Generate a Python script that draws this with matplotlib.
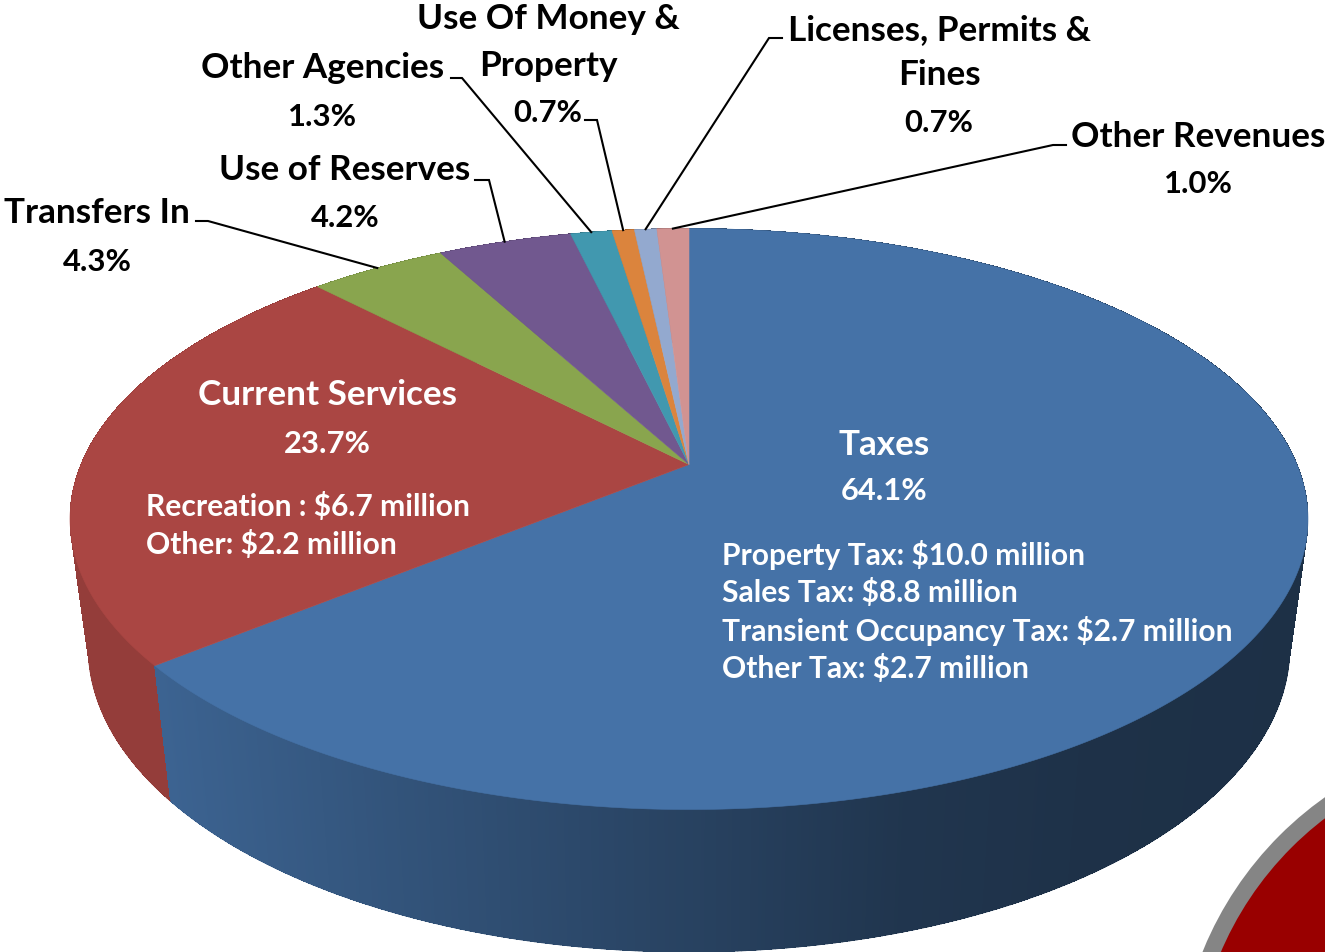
import matplotlib
matplotlib.use("Agg")
import matplotlib.pyplot as plt
from matplotlib.collections import LineCollection, PolyCollection
from matplotlib.colors import to_rgb
from matplotlib.patches import Circle, Polygon
import numpy as np

plt.rcParams["font.family"] = ["Lato", "DejaVu Sans"]

SLICE_NAMES = ["Taxes", "Current Services", "Transfers In", "Use of Reserves",
               "Other Agencies", "Use Of Money & Property",
               "Licenses, Permits & Fines", "Other Revenues"]
SLICE_PCT = [64.1, 23.7, 4.3, 4.2, 1.3, 0.7, 0.7, 1.0]
SLICE_COLORS = ["#4572A7", "#AA4643", "#89A54E", "#71588F",
                "#4198AF", "#DB843D", "#93A9CF", "#D19392"]

TAX_LINES = ["Property Tax: $10.0 million", "Sales Tax: $8.8 million",
             "Transient Occupancy Tax: $2.7 million", "Other Tax: $2.7 million"]
SERVICE_LINES = ["Recreation : $6.7 million", "Other: $2.2 million"]

# perspective of the pie, in image pixels
CX = 689
TOP = dict(y0=465.5, ax=608, ay=280.3)
BOTTOM = dict(y0=591, ax=590, ay=294)
PERSP = 0.1876

# shade of the side wall against x position
SHADE_X = [70, 155, 400, 689, 900, 1100, 1310]
SHADE_K = [0.87, 0.87, 0.73, 0.58, 0.47, 0.43, 0.42]


def project(theta, disk):
    u, v = np.sin(theta), np.cos(theta)
    w = 1 + PERSP * v
    return CX + disk["ax"] * u / w, disk["y0"] - disk["ay"] * v / w


fig = plt.figure(figsize=(13.25, 9.53), dpi=100, facecolor="white")
ax = fig.add_axes([0, 0, 1, 1])
ax.set_xlim(0, 1325)
ax.set_ylim(953, 0)
ax.axis("off")

# corner decoration
ax.add_patch(Circle((1527, 1084), 350, color="#858585", lw=0, zorder=1))
ax.add_patch(Circle((1527, 1084), 333, color="#990000", lw=0, zorder=2))

edges = np.cumsum([0] + SLICE_PCT) / 100 * 2 * np.pi

# side wall, back to front. no antialiasing on the strips or the seams show
quads, quad_colors, depth, rim_segs = [], [], [], []
for i, base in enumerate(SLICE_COLORS):
    n = max(4, int(SLICE_PCT[i] * 12))
    th = np.linspace(edges[i], edges[i + 1], n + 1)
    xt, yt = project(th, TOP)
    xb, yb = project(th, BOTTOM)
    for j in range(n):
        quads.append([(xt[j], yt[j]), (xt[j + 1], yt[j + 1]), (xb[j + 1], yb[j + 1]), (xb[j], yb[j])])
        rim_segs.append([(xb[j], yb[j]), (xb[j + 1], yb[j + 1])])
        k = np.interp((xt[j] + xt[j + 1]) / 2, SHADE_X, SHADE_K)
        quad_colors.append(tuple(np.array(to_rgb(base)) * k))
        depth.append((yt[j] + yt[j + 1]) / 2)
order = np.argsort(depth)
ax.add_collection(PolyCollection([quads[i] for i in order],
                                 facecolors=[quad_colors[i] for i in order],
                                 edgecolors="none", antialiaseds=False, zorder=3))
ax.add_collection(LineCollection([rim_segs[i] for i in order],
                                 colors=[quad_colors[i] for i in order],
                                 linewidths=0.8, capstyle="round", zorder=3))

# top face
for i, base in enumerate(SLICE_COLORS):
    th = np.linspace(edges[i], edges[i + 1], max(4, int(SLICE_PCT[i] * 10)))
    x, y = project(th, TOP)
    pts = np.column_stack([np.r_[CX, x], np.r_[TOP["y0"], y]])
    ax.add_patch(Polygon(pts, closed=True, facecolor=base, edgecolor=base, lw=0.4, zorder=4))

# leader lines, elbow ends are label positions
ELBOWS = {
    2: [(196, 222), (208, 222)],
    3: [(475, 181), (489, 181)],
    4: [(451, 79), (462, 79)],
    5: [(585, 121), (597, 121)],
    6: [(782, 39), (769, 39)],
    7: [(1066, 146), (1053, 146)],
}
for i, pts in ELBOWS.items():
    ex, ey = project((edges[i] + edges[i + 1]) / 2, TOP)
    ax.plot([pts[0][0], pts[1][0], ex], [pts[0][1], pts[1][1], ey],
            color="black", lw=1.5, solid_joinstyle="miter", zorder=5)


def label(x, y, s, color="black", size=25.3, ha="center"):
    ax.text(x, y + 2, s, color=color, fontsize=size, fontweight="bold", ha=ha, va="center", zorder=6)


def pct(x, y, i, color="black"):
    label(x, y + 1, f"{SLICE_PCT[i]}%", color, size=22.3)


label(884, 443, SLICE_NAMES[0], "white")
pct(884, 488, 0, "white")
label(327, 393, SLICE_NAMES[1], "white")
pct(327, 441, 1, "white")
label(97, 211, SLICE_NAMES[2])
pct(97, 259, 2)
label(345, 168, SLICE_NAMES[3])
pct(345, 215, 3)
label(323, 66, SLICE_NAMES[4])
pct(323, 114, 4)
label(548, 17, "Use Of Money &")
label(548, 64, "Property")
pct(548, 110, 5)
label(939, 28, "Licenses, Permits &")
label(939, 73, "Fines")
pct(939, 120, 6)
label(1198, 135, SLICE_NAMES[7])
pct(1198, 181, 7)

for line, y in zip(TAX_LINES, [553, 591, 629, 667]):
    label(722, y, line, "white", size=21.6, ha="left")
for line, y in zip(SERVICE_LINES, [505, 543]):
    label(146, y, line, "white", size=21.6, ha="left")

fig.savefig("out.png", dpi=100, facecolor="white")
plt.close(fig)
